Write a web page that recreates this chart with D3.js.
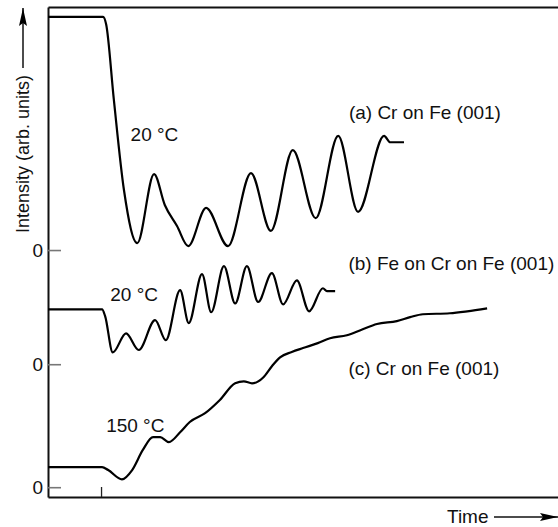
<!DOCTYPE html>
<html><head><meta charset="utf-8">
<script src="https://cdn.jsdelivr.net/npm/d3@7"></script>
<style>
html,body{margin:0;padding:0;background:#fff;}
svg{display:block;font-family:"Liberation Sans",Arial,Helvetica,sans-serif;}
</style></head>
<body>
<svg id="chart" width="558" height="527"></svg>
<script>
// ---- data (time and intensity in arbitrary units) ----
// curve (a) Cr on Fe (001), 20 °C — intensity relative to its own zero
const timeA = [0, 10.8, 11.4, 12.9, 14.9, 17.5, 20.8, 22.9, 25.3, 27.5, 31.0, 35.3, 39.8, 43.7, 48.0, 52.5, 56.9, 60.8, 65.9, 67.1, 69.8];
const intensityA = [47.6, 47.6, 46.1, 30.8, 12.2, 1.4, 15.5, 9.2, 4.9, 0.8, 8.6, 0.8, 15.7, 3.9, 20.4, 6.5, 23.3, 7.8, 23.3, 22.0, 22.0];
// curve (b) Fe on Cr on Fe (001), 20 °C
const timeB = [0, 10.6, 11.2, 12.7, 15.3, 17.8, 21.0, 23.1, 25.9, 27.6, 30.2, 32.0, 34.5, 36.7, 39.0, 41.2, 43.9, 46.1, 48.8, 51.2, 53.9, 54.7, 56.3];
const intensityB = [11.2, 11.2, 9.8, 2.4, 6.3, 2.9, 9.0, 4.9, 15.1, 8.4, 18.4, 10.6, 20.0, 12.4, 20.0, 12.7, 18.6, 12.2, 17.1, 10.8, 15.5, 14.9, 14.9];
// curve (c) Cr on Fe (001), 150 °C
const timeC = [0, 10.6, 11.8, 14.5, 16.5, 18.6, 20.6, 22.0, 23.7, 25.9, 27.8, 30.8, 33.7, 36.7, 38.4, 40.0, 42.2, 43.9, 45.5, 47.8, 50.0, 52.9, 55.3, 58.6, 61.6, 64.5, 68.4, 71.0, 73.5, 78.8, 82.2, 86.1];
const intensityC = [4.1, 4.1, 3.5, 1.6, 3.5, 7.6, 10.2, 10.2, 9.2, 11.2, 13.3, 15.1, 17.8, 21.2, 21.6, 21.2, 22.4, 24.7, 26.5, 27.6, 28.4, 29.4, 30.4, 31.0, 32.2, 33.3, 33.9, 34.7, 35.3, 35.5, 35.9, 36.5];
// vertical offsets (zero level of each curve) on the common intensity axis
const zeroLevels = [50.4, 27.1, 2.0];
const zeroTickLabels = ["0", "0", "0"];
const timeTicks = [10.4];

// annotations: [text, time, intensity (absolute axis units)]
const labelTexts = ["20 °C", "(a) Cr on Fe (001)", "20 °C", "(b) Fe on Cr on Fe (001)", "(c) Cr on Fe (001)", "150 °C"];
const labelTimes = [16.2, 59.0, 12.2, 58.9, 58.9, 11.4];
const labelValues = [72.6, 77.2, 39.9, 46.4, 25.0, 13.2];

const xTitle = "Time";
const yTitle = "Intensity (arb. units)";

// ---- drawing ----
const svg = d3.select("#chart");
const x = d3.scaleLinear().domain([0, 100]).range([48, 558]);
const y = d3.scaleLinear().domain([0, 100]).range([497, 7]);
const FS = 19;

const defs = svg.append("defs");
defs.append("marker").attr("id", "arrow").attr("viewBox", "0 0 18 8")
  .attr("refX", 18).attr("refY", 4).attr("markerWidth", 18).attr("markerHeight", 8)
  .attr("markerUnits", "userSpaceOnUse").attr("orient", "auto")
  .append("path").attr("d", "M0,0 L18,4 L0,8 L3,4 Z").attr("fill", "#000");

// frame: top line
svg.append("g").attr("transform", `translate(0,${y(100)})`)
  .call(d3.axisTop(x).tickValues([]).tickSizeOuter(0))
  .call(g => g.select(".domain").attr("stroke", "#111").attr("stroke-width", 2));

// bottom axis
svg.append("g").attr("transform", `translate(0,${y(0)})`)
  .call(d3.axisBottom(x).tickValues(timeTicks).tickFormat("").tickSizeInner(-10).tickSizeOuter(0))
  .call(g => g.select(".domain").attr("stroke", "#111").attr("stroke-width", 2))
  .call(g => g.selectAll(".tick line").attr("stroke", "#222").attr("stroke-width", 1.3));

// left axis
svg.append("g").attr("transform", `translate(${x(0)},0)`)
  .call(d3.axisLeft(y).tickValues(zeroLevels).tickFormat((d, i) => zeroTickLabels[i]).tickSizeInner(-13).tickSizeOuter(0).tickPadding(6))
  .call(g => g.select(".domain").attr("stroke", "#111").attr("stroke-width", 2))
  .call(g => g.selectAll(".tick line").attr("stroke", "#777").attr("stroke-width", 1.6))
  .call(g => g.selectAll(".tick text").attr("font-size", FS).attr("fill", "#111")
        .attr("font-family", "Liberation Sans, Arial, sans-serif").attr("x", -5));

// curves
const series = [
  {t: timeA, v: intensityA, z: zeroLevels[0]},
  {t: timeB, v: intensityB, z: zeroLevels[1]},
  {t: timeC, v: intensityC, z: zeroLevels[2]}
];
const line = d3.line().curve(d3.curveMonotoneX);
series.forEach(s => {
  const pts = s.t.map((t, i) => [x(t), y(s.z + s.v[i])]);
  svg.append("path").attr("d", line(pts)).attr("fill", "none")
    .attr("stroke", "#000").attr("stroke-width", 2.2).attr("stroke-linejoin", "round");
});

// annotations
labelTexts.forEach((txt, i) => {
  svg.append("text").attr("x", x(labelTimes[i])).attr("y", y(labelValues[i]))
    .attr("font-size", FS).attr("fill", "#111").text(txt);
});

// x title with arrow
svg.append("text").attr("x", 447).attr("y", 523).attr("font-size", FS).attr("fill", "#111").text(xTitle);
svg.append("line").attr("x1", 494).attr("y1", 517).attr("x2", 558).attr("y2", 517)
  .attr("stroke", "#111").attr("stroke-width", 1.5).attr("marker-end", "url(#arrow)");

// y title with arrow
svg.append("text").attr("transform", "translate(29,154) rotate(-90)")
  .attr("text-anchor", "middle").attr("font-size", 18).attr("fill", "#111").text(yTitle);
svg.append("line").attr("x1", 23).attr("y1", 68).attr("x2", 23).attr("y2", 8)
  .attr("stroke", "#111").attr("stroke-width", 1.5).attr("marker-end", "url(#arrow)");
</script>
</body></html>
